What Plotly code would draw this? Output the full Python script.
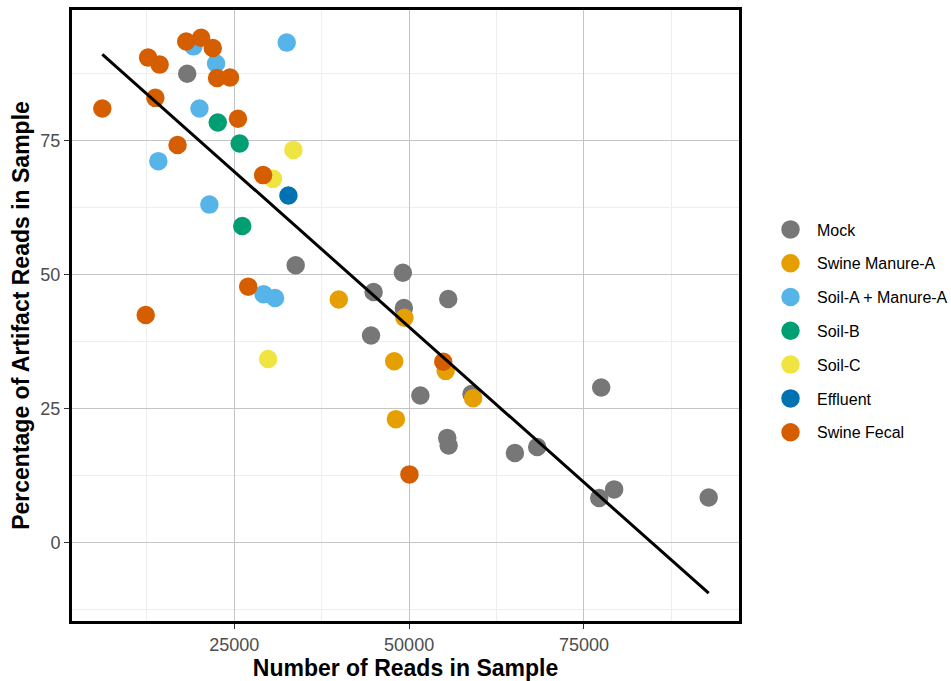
import numpy as np
import plotly.graph_objects as go

groups = ["Mock", "Swine Manure-A", "Soil-A + Manure-A", "Soil-B", "Soil-C", "Effluent", "Swine Fecal"]
colors = ["#777777", "#E69F00", "#56B4E9", "#009E73", "#F0E442", "#0072B2", "#D55E00"]

mock_reads = [18270, 33779, 44921, 49104, 49246, 55592, 44551, 51608, 58922, 77462, 55450, 55649, 65126, 68313, 77178, 79312, 92830]
mock_pct = [87.4, 51.7, 46.7, 50.3, 43.7, 45.4, 38.6, 27.4, 27.7, 28.9, 19.5, 18.1, 16.7, 17.8, 8.3, 9.9, 8.4]

manure_reads = [39940, 49332, 47866, 55222, 59150, 48108]
manure_pct = [45.3, 41.9, 33.8, 32.0, 26.9, 23.0]

soila_reads = [19166, 32499, 22396, 20020, 14143, 21443, 29183, 30834]
soila_pct = [92.5, 93.2, 89.3, 80.9, 71.1, 63.0, 46.3, 45.6]

soilb_reads = [22638, 25768, 26138]
soilb_pct = [78.3, 74.4, 59.0]

soilc_reads = [33452, 30549, 29838]
soilc_pct = [73.2, 67.8, 34.2]

effluent_reads = [32741]
effluent_pct = [64.7]

fecal_reads = [18127, 20262, 21927, 12678, 14328, 22538, 24388, 13716, 6132, 25526, 16889, 29126, 26992, 12336, 54881, 50043]
fecal_pct = [93.4, 94.1, 92.2, 90.4, 89.1, 86.6, 86.7, 82.9, 80.9, 79.0, 74.1, 68.5, 47.7, 42.4, 33.7, 12.7]

reads = [mock_reads, manure_reads, soila_reads, soilb_reads, soilc_reads, effluent_reads, fecal_reads]
pcts = [mock_pct, manure_pct, soila_pct, soilb_pct, soilc_pct, effluent_pct, fecal_pct]

fig = go.Figure()
for i, (g, c) in enumerate(zip(groups, colors)):
    fig.add_trace(go.Scatter(
        x=reads[i], y=pcts[i], mode="markers", name=g,
        legendgroup=g,
        marker=dict(color=c, size=16, line=dict(width=2.5, color=c)),
    ))

all_x = np.concatenate([np.array(r, dtype=float) for r in reads])
all_y = np.concatenate([np.array(p, dtype=float) for p in pcts])
slope, intercept = np.polyfit(all_x, all_y, 1)
lx = np.array([all_x.min(), all_x.max()])
ly = slope * lx + intercept
fig.add_trace(go.Scatter(x=lx, y=ly, mode="lines", line=dict(color="black", width=3),
                         showlegend=False, hoverinfo="skip"))

xmin, xmax = all_x.min(), all_x.max()
ymin, ymax = min(all_y.min(), ly.min()), max(all_y.max(), ly.max())
xw, yw = xmax - xmin, ymax - ymin

tickfont = dict(family="Liberation Sans, Arial, sans-serif", size=18, color="#4d4d4d")
titlefont = dict(family="Liberation Sans, Arial, sans-serif", size=23, color="black", weight="bold")

fig.update_layout(
    width=951, height=681,
    margin=dict(l=72, r=212, t=7, b=60),
    plot_bgcolor="white", paper_bgcolor="white",
    showlegend=True,
    legend=dict(
        xref="container", yref="container", x=764 / 951, y=1 - 331 / 681,
        xanchor="left", yanchor="middle",
        font=dict(family="Liberation Sans, Arial, sans-serif", size=16, color="black"),
        tracegroupgap=10, itemsizing="trace", itemwidth=43,
        bgcolor="rgba(0,0,0,0)",
    ),
    xaxis=dict(
        range=[xmin - 0.05 * xw, xmax + 0.05 * xw],
        tick0=0, dtick=25000, tickformat="d",
        showgrid=True, gridcolor="#c4c4c4", gridwidth=1,
        minor=dict(dtick=12500, tick0=0, showgrid=True, gridcolor="#eeeeee", gridwidth=1),
        zeroline=False,
        showline=True, linecolor="black", linewidth=3, mirror=True,
        ticks="outside", ticklen=5, tickcolor="#333333", tickwidth=1,
        tickfont=tickfont,
        title=dict(text="Number of Reads in Sample", font=titlefont, standoff=1),
    ),
    yaxis=dict(
        range=[ymin - 0.05 * yw, ymax + 0.05 * yw],
        tick0=0, dtick=25,
        showgrid=True, gridcolor="#c4c4c4", gridwidth=1,
        minor=dict(dtick=12.5, tick0=0, showgrid=True, gridcolor="#eeeeee", gridwidth=1),
        zeroline=False,
        showline=True, linecolor="black", linewidth=3, mirror=True,
        ticks="outside", ticklen=5, tickcolor="#333333", tickwidth=1,
        tickfont=tickfont,
        title=dict(text="Percentage of Artifact Reads in Sample", font=titlefont, standoff=5),
    ),
)

fig.write_html("out.html")
